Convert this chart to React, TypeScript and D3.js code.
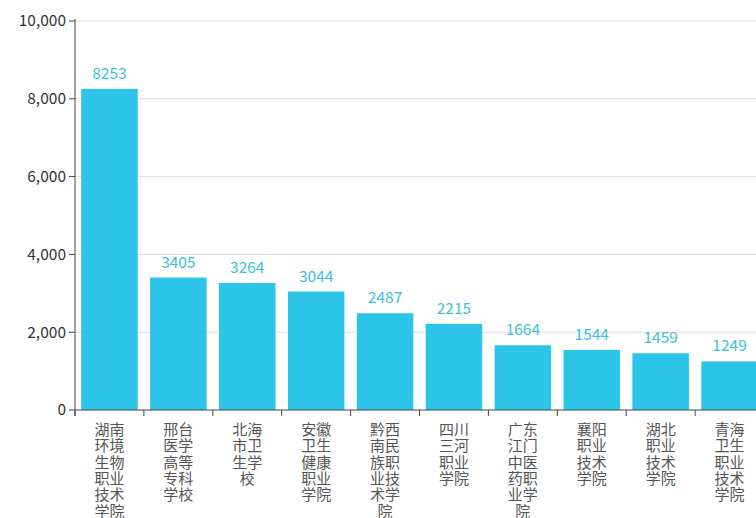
import React from "react";
import * as d3 from "d3";

const categories = [
  "湖南环境生物职业技术学院",
  "邢台医学高等专科学校",
  "北海市卫生学校",
  "安徽卫生健康职业学院",
  "黔西南民族职业技术学院",
  "四川三河职业学院",
  "广东江门中医药职业学院",
  "襄阳职业技术学院",
  "湖北职业技术学院",
  "青海卫生职业技术学院",
];
const values = [8253, 3405, 3264, 3044, 2487, 2215, 1664, 1544, 1459, 1249];
const yTicks = [0, 2000, 4000, 6000, 8000, 10000];

const W = 756;
const H = 518;
const left = 75;
const top = 21;
const bottom = 410;
const right = 764;
const FONT = "'Noto Sans CJK SC', 'Noto Sans', sans-serif";

function chunk(s: string, n: number): string[] {
  const out: string[] = [];
  const chars = Array.from(s);
  for (let i = 0; i < chars.length; i += n) out.push(chars.slice(i, i + n).join(""));
  return out;
}

export default function App() {
  const x = d3
    .scaleBand<string>()
    .domain(categories)
    .range([left, right])
    .paddingInner(0.18)
    .paddingOuter(0.09);
  const y = d3.scaleLinear().domain([0, 10000]).range([bottom, top]);
  const fmt = d3.format(",");
  const step = x.step();
  const x0 = left;

  return (
    <svg
      width={W}
      height={H}
      style={{ position: "fixed", left: 0, top: 0, background: "#fff" }}
      fontFamily={FONT}
    >
      {yTicks.map((t) => (
        <g key={t}>
          {t > 0 && (
            <line x1={left} x2={W} y1={y(t)} y2={y(t)} stroke="#dcdcdc" strokeWidth={1} />
          )}
          <line x1={left - 6} x2={left} y1={y(t)} y2={y(t)} stroke="#444" />
          <text
            x={left - 9}
            y={y(t)}
            dy="0.35em"
            textAnchor="end"
            fontSize={15.5}
            fill="#333"
          >
            {fmt(t)}
          </text>
        </g>
      ))}
      {categories.map((c, i) => {
        const cx = (x(c) as number) + x.bandwidth() / 2;
        return (
          <g key={c}>
            <rect
              x={x(c)}
              y={y(values[i])}
              width={x.bandwidth()}
              height={bottom - y(values[i])}
              fill="#2cc4e8"
            />
            <text
              x={cx}
              y={y(values[i]) - 10}
              textAnchor="middle"
              fontSize={15.5}
              fill="#3bbfdc"
            >
              {values[i]}
            </text>
            {chunk(c, 2).map((line, k) => (
              <text
                key={k}
                x={cx}
                y={435 + 16.3 * k}
                textAnchor="middle"
                fontSize={15}
                fill="#555"
              >
                {line}
              </text>
            ))}
          </g>
        );
      })}
      {d3.range(categories.length + 1).map((i) => (
        <line
          key={i}
          x1={x0 + step * i}
          x2={x0 + step * i}
          y1={bottom}
          y2={bottom + 6}
          stroke="#444"
        />
      ))}
      <line x1={left} x2={W} y1={bottom} y2={bottom} stroke="#444" />
      <line x1={left} x2={left} y1={top - 2} y2={bottom + 6} stroke="#444" />
    </svg>
  );
}
